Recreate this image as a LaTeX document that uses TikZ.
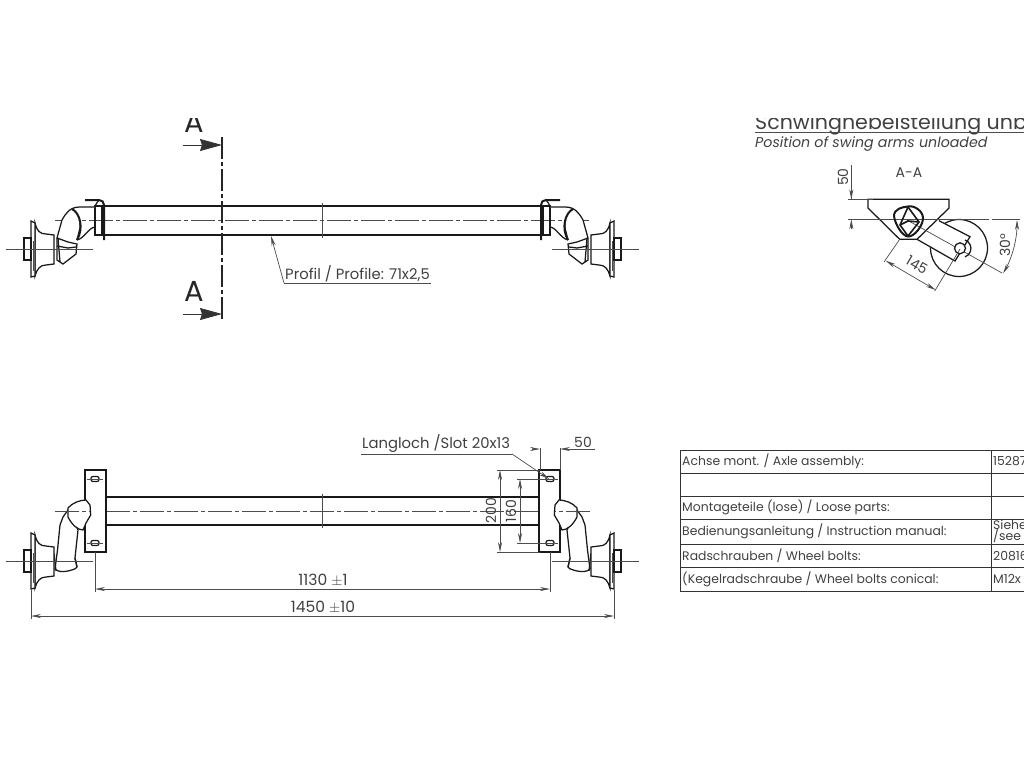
\documentclass[tikz,border=0pt]{standalone}
\usepackage{fontspec}
\setmainfont{Poppins}
\usetikzlibrary{arrows.meta}

\tikzset{
  axleline/.style={line width=1.25pt, black!90},
  heavyline/.style={line width=2pt, black!90},
  thinline/.style={line width=0.7pt, black!70},
  centerline/.style={line width=0.8pt, black!70, dash pattern=on 24pt off 3pt on 4pt off 3pt},
  dimline/.style={thinline, {Stealth[length=10pt,width=4pt]}-{Stealth[length=10pt,width=4pt]}},
  dimend/.style={thinline, -{Stealth[length=10pt,width=4pt]}},
  sectionarrow/.style={line width=0.8pt, black!80, -{Stealth[length=22pt,width=12pt,inset=2pt]}},
  drawtext/.style={inner sep=0pt, text=black!75, font=\fontsize{14}{16}\selectfont},
  labeltext/.style={drawtext, anchor=south west, inner sep=1pt, font=\fontsize{14.8}{16}\selectfont},
  lengthtext/.style={drawtext, font=\fontsize{15.5}{17}\selectfont},
  cuttext/.style={drawtext, text=black!85, font=\fontsize{29}{31}\selectfont},
  tabletext/.style={drawtext, anchor=west, font=\fontsize{12.4}{13}\selectfont},
}

% Wheel hub around its own axis, (0,0) is the hub centre
\newcommand{\axlehub}{
  \draw[axleline, fill=white] (35,-26) .. controls (37,-18) and (40,-15) .. (46,-15)
    -- (54,-14) -- (54,15) -- (46,16) .. controls (40,16) and (37,20) .. (35,27) -- cycle;
  \draw[axleline, fill=white] (31,-28) -- (35,-26) -- (35,27) -- (31,28) -- cycle;
  \draw[axleline] (24,-11) rectangle (31,11);
  \draw[thinline] (33,-8) -- (33,22);
  \draw[thinline] (6,0) -- (93,0);
}

% Swing arm seen from above, with bracket
\newcommand{\armtop}{
  \draw[axleline] (95,206) rectangle (102,235);
  \draw[axleline, fill=white] (95,207) -- (80,207) .. controls (70,207) and (66,213) .. (62,220)
    -- (57,238) -- (68,242) -- (77,244) -- (76,254) -- (63,264) -- (57,260) -- (57,238);
  \draw[axleline] (77,240) .. controls (85,238) and (88,228) .. (95,227);
  \draw[axleline] (77,240) -- (80,228) -- (80,222);
  \draw[heavyline] (72,209) .. controls (80,213) and (84,228) .. (77,240);
  \draw[axleline] (57,246) -- (68,248) -- (76,247);
  \draw[axleline] (58,238) -- (60,262);
  \draw[heavyline] (85,200) -- (99,200) .. controls (102,200) and (104,202) .. (104,205) -- (104,240);
  \draw[axleline] (95,206) .. controls (96,204) and (98,201) .. (99,200);
}

% Swing arm seen from the side, with plate and slots
\newcommand{\armside}{
  \draw[axleline, fill=white] (85,470) rectangle (106,552);
  \foreach \holey in {479,543} {
    \draw[axleline, rounded corners=2pt] (91,\holey-2.5) rectangle (99,\holey+2.5);
    \draw[thinline] (92,\holey) -- (98,\holey);
    \draw[thinline] (87,\holey) -- (90,\holey);
    \draw[thinline] (100,\holey) -- (103,\holey);
  }
  \draw[axleline, fill=white] (68,510) -- (63,517) -- (60,525) -- (57.5,550) -- (55,569)
    .. controls (58,572) and (63,572) .. (68,571)
    .. controls (72,570) and (76,569) .. (77,567)
    -- (75,558) -- (78,530) -- cycle;
  \draw[axleline, fill=white] (86,500) -- (90,505) -- (90.7,515) -- (86,523) -- (83,530)
    .. controls (78,530) and (72,525) .. (68,517) -- (68,508)
    .. controls (72,503) and (80,500) .. (86,500) -- cycle;
  \draw[axleline] (75,558) -- (77,567);
  \draw[axleline] (54,553) -- (56,571);
  \draw[centerline] (55,511) -- (90,511);
}

\begin{document}
\begin{tikzpicture}[x=1pt, y=-1pt]

    \useasboundingbox (0,0) rectangle (1024,768);

    % Upper view: tube
    \draw[axleline] (104,206) -- (541,206);
    \draw[axleline] (104,235) -- (541,235);
    \draw[centerline] (55,220) -- (590,220);
    \draw[thinline] (322,203) -- (322,238);

    % Upper view: both arms and hubs
    \armtop
    \begin{scope}[shift={(0,249)}]
      \axlehub
    \end{scope}
    \begin{scope}[shift={(645,0)}, xscale=-1]
      \armtop
      \begin{scope}[shift={(0,249)}]
        \axlehub
      \end{scope}
    \end{scope}

    % Section line A
    \draw[line width=1.6pt, black!85, dash pattern=on 22pt off 3pt on 4pt off 3pt] (222,137) -- (222,321);
    \coordinate (cutupper) at (222,145);
    \coordinate (cutlower) at (222,314);
    \draw[sectionarrow] (183,145) -- (cutupper);
    \draw[sectionarrow] (183,314) -- (cutlower);
    \begin{scope}
      \clip (150,118) rectangle (240,140);
      \node[cuttext] (cuttop) at (194,122.5) {A};
    \end{scope}
    \node[cuttext] (cutbottom) at (194,291.5) {A};

    % Profile label
    \node[labeltext] (profile) at (284,283) {Profil / Profile: 71x2,5};
    \draw[thinline] (profile.south west) -- (profile.south east);
    \draw[dimend] (profile.south west) -- (271,236);

    % Lower view: tube
    \draw[axleline] (106,497) -- (540,497);
    \draw[axleline] (106,525) -- (540,525);
    \draw[centerline] (106,511) -- (590,511);
    \draw[thinline] (322,494) -- (322,528);

    % Lower view: both arms and hubs
    \armside
    \begin{scope}[shift={(0,561)}]
      \axlehub
    \end{scope}
    \begin{scope}[shift={(645,0)}, xscale=-1]
      \armside
      \begin{scope}[shift={(0,561)}]
        \axlehub
      \end{scope}
    \end{scope}

    % Lengths
    \draw[thinline] (95,552) -- (95,592);
    \draw[thinline] (550,552) -- (550,592);
    \draw[dimline] (95,589) -- (550,589);
    \node[lengthtext] (lenplates) at (323,580) {1130 $\pm$1};
    \draw[thinline] (31,590) -- (31,619);
    \draw[thinline] (614,590) -- (614,619);
    \draw[dimline] (31,616) -- (614,616);
    \node[lengthtext] (lenhubs) at (323,607) {1450 $\pm$10};

    % Plate dimensions
    \draw[thinline] (540,448) -- (540,470);
    \draw[thinline] (560,448) -- (560,470);
    \draw[dimend] (532,449) -- (540,449);
    \draw[dimend] (595,449) -- (560,449);
    \node[drawtext] (platewidth) at (583,442) {50};
    \draw[thinline] (497,470) -- (540,470);
    \draw[thinline] (497,552) -- (540,552);
    \draw[dimline] (500,470) -- (500,552);
    \node[drawtext, rotate=90] (plateheight) at (491,511) {200};
    \draw[thinline] (517,479) -- (548,479);
    \draw[thinline] (517,543) -- (548,543);
    \draw[dimline] (520,479) -- (520,543);
    \node[drawtext, rotate=90] (holedist) at (511,511) {160};

    % Slot label
    \node[labeltext] (slot) at (361,454) {Langloch /Slot 20x13};
    \draw[thinline] (slot.south west) -- (512,454);
    \draw[dimend] (512,454) -- (549,479);

    % Heading of the section
    \begin{scope}
      \clip (700,118) rectangle (1024,134);
      \node[drawtext, anchor=base west, font=\fontsize{20.6}{22}\selectfont] (headde) at (755,129.5) {Schwinghebelstellung unb};
    \end{scope}
    \draw[thinline, line width=1pt] (755,132) -- (1024,132);
    \node[drawtext, anchor=base west, font=\fontsize{14.2}{16}\selectfont\itshape] (headen) at (755,147) {Position of swing arms unloaded};
    \node[drawtext] (sectionname) at (909,173) {A-A};

    % Section: wheel, arm, bracket
    \draw[axleline] (959,248) circle (28.5);
    \draw[axleline, fill=white] (939,220.7) -- (970,236.7) -- (955,261) -- (917,239.3);
    \draw[axleline] (868,199.3) -- (949,199.3) -- (949,208) -- (917,239.3) -- (899.7,239.3) -- (868,208) -- cycle;
    \draw[thinline] (848,199.3) -- (873,199.3);
    \draw[thinline] (848,219.3) -- (989,219.3);
    \draw[thinline] (992,219.3) -- (1020,219.3);
    \draw[thinline] (907,220) -- (1002,273);
    \draw[axleline, fill=white] (960,248.3) circle (5.5);
    \draw[axleline] (965,240) arc (-70:70:9);

    % Section: tube
    \draw[heavyline] (908,206.5) .. controls (914,205) and (923,211) .. (923,218)
      .. controls (923,226) and (914,237) .. (908,236.5)
      .. controls (902,236) and (895,224) .. (894,216)
      .. controls (894,209) and (902,207) .. (908,206.5) -- cycle;
    \draw[line width=1.6pt, black!90] (908,207) -- (900,225) -- (908,236);
    \draw[line width=1.6pt, black!90] (908,207) -- (919,222) -- (908,236);
    \draw[line width=1.6pt, black!90] (900,225) -- (908,221) -- (919,222);

    % Section: dimensions
    \draw[thinline] (851.3,165) -- (851.3,199.3);
    \draw[dimend] (851.3,180) -- (851.3,199.3);
    \draw[dimend] (851.3,229) -- (851.3,219.3);
    \node[drawtext, rotate=90] (dropheight) at (843,177) {50};
    \draw[thinline] (899.7,239.3) -- (884,262);
    \draw[thinline] (960,249) -- (934.7,291);
    \draw[dimline] (885.7,260.7) -- (935.7,290);
    \node[drawtext, rotate=-30] (armlength) at (917,265) {145};
    \draw[dimline] (1017,220) arc (0:29:110);
    \node[drawtext, rotate=90] (armangle) at (1005,245) {30°};

    % Table
    \draw[thinline, black!80] (680,450) -- (1024,450);
    \draw[thinline, black!80] (680,473) -- (1024,473);
    \draw[thinline, black!80] (680,496) -- (1024,496);
    \draw[thinline, black!80] (680,519) -- (1024,519);
    \draw[thinline, black!80] (680,544) -- (1024,544);
    \draw[thinline, black!80] (680,567) -- (1024,567);
    \draw[thinline, black!80] (680,591) -- (1024,591);
    \draw[thinline, black!80] (680,450) -- (680,591);
    \draw[thinline, black!80] (991,450) -- (991,591);
    \node[tabletext] (rowone) at (682,461) {Achse mont. / Axle assembly:};
    \node[tabletext] (rowthree) at (682,507) {Montageteile (lose) / Loose parts:};
    \node[tabletext] (rowfour) at (682,531) {Bedienungsanleitung / Instruction manual:};
    \node[tabletext] (rowfive) at (682,556) {Radschrauben / Wheel bolts:};
    \node[tabletext] (rowsix) at (682,579) {(Kegelradschraube / Wheel bolts conical:};
    \node[tabletext] (valone) at (993,461) {15287};
    \node[tabletext, align=left] (valfour) at (993,531) {Siehe\\[-2pt]/see};
    \node[tabletext] (valfive) at (993,556) {20816};
    \node[tabletext] (valsix) at (993,579) {M12x};

\end{tikzpicture}
\end{document}
